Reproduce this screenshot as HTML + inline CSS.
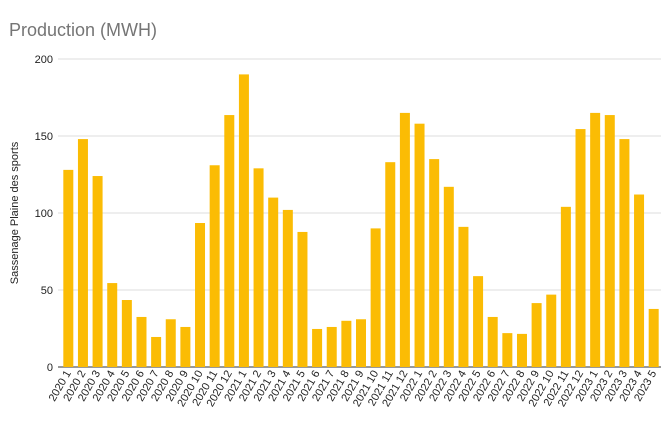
<!DOCTYPE html>
<html><head><meta charset="utf-8"><style>
body{margin:0;background:#fff;font-family:"Liberation Sans",sans-serif}
</style></head><body>
<svg id="chart" width="670" height="430" xmlns="http://www.w3.org/2000/svg">
<text x="9" y="36" font-size="18" fill="#757575">Production (MWH)</text>
<text transform="translate(18,213) rotate(-90)" text-anchor="middle" font-size="11" fill="#222">Sassenage Plaine des sports</text>
<g id="grid"></g><g id="bars"></g><g id="xl"></g>
</svg>
<script>
const categories=["2020 1","2020 2","2020 3","2020 4","2020 5","2020 6","2020 7","2020 8","2020 9","2020 10","2020 11","2020 12","2021 1","2021 2","2021 3","2021 4","2021 5","2021 6","2021 7","2021 8","2021 9","2021 10","2021 11","2021 12","2022 1","2022 2","2022 3","2022 4","2022 5","2022 6","2022 7","2022 8","2022 9","2022 10","2022 11","2022 12","2023 1","2023 2","2023 3","2023 4","2023 5"];
const values=[128,148,124,54.5,43.5,32.5,19.5,31,26,93.5,131,163.6,190,129,110,102,87.7,24.7,26,30,31,90,133,165,158,135,117,91,59,32.5,22,21.5,41.5,47,104,154.5,165,163.6,148,112,37.7];
const yTicks=[0,50,100,150,200];
const NS="http://www.w3.org/2000/svg";
const L=61,R=661,T=59,B=367,maxV=200;
const y=v=>B-(v/maxV)*(B-T);
const step=(R-L)/categories.length;
const x=i=>L+step*(i+0.5);
function mk(t,a,p){const e=document.createElementNS(NS,t);for(const k in a)e.setAttribute(k,a[k]);p.appendChild(e);return e;}
const g=document.getElementById('grid'),b=document.getElementById('bars'),xl=document.getElementById('xl');
yTicks.forEach(v=>{
 const ln=mk('line',{x1:58,x2:R,y1:y(v),y2:y(v),stroke:v===0?'#333':'#ddd','stroke-width':1},g);
 
 
 const t=mk('text',{x:53,y:y(v)+4,'text-anchor':'end','font-size':11,fill:'#222'},g);
 t.textContent=v;
 
 
});
values.forEach((v,i)=>{
 const r=mk('rect',{x:x(i)-5,y:y(v),width:10,height:B-y(v),fill:'#fbbc04'},b);
 
 
 const t=mk('text',{transform:`translate(${x(i)+3},${B+6}) rotate(-60)`,'text-anchor':'end','font-size':11,fill:'#222'},xl);
 t.textContent=categories[i];
 
 
});
</script>
</body></html>
